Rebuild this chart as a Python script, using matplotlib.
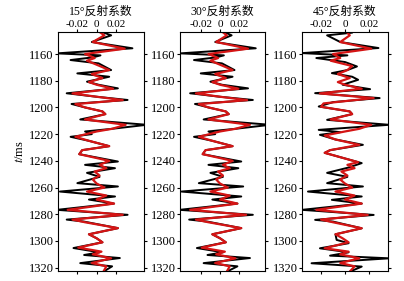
import numpy as np
import matplotlib
matplotlib.use('Agg')
import matplotlib.pyplot as plt

plt.rcParams['font.family'] = ['Liberation Serif', 'Noto Sans CJK SC']
plt.rcParams['mathtext.fontset'] = 'stix'

titles = ['15°反射系数', '30°反射系数', '45°反射系数']

## 15 deg: red = fitted trace, black = original trace
t_red1 = [1142, 1146, 1151, 1156, 1160, 1163, 1165, 1168, 1172, 1175, 1178, 1181, 1183, 1186, 1189.5,
          1192, 1194.5, 1197.5, 1200, 1203, 1205, 1209, 1213, 1216, 1218, 1222, 1225, 1229, 1232, 1235,
          1240, 1243, 1245.5, 1248, 1251, 1254, 1257, 1260, 1263, 1266, 1269, 1272, 1276.7, 1280.4, 1284,
          1286, 1290.4, 1295, 1298, 1301, 1305, 1308, 1310, 1313, 1316.5, 1319, 1323]
x_red1 = [0.0, 0.008, -0.004, 0.029, -0.012, -0.002, -0.01, 0.0, 0.013, -0.005, 0.006, -0.008, 0.0, 0.017, -0.025,
          0.0, 0.027, -0.022, -0.012, 0.006, 0.009, -0.012, 0.03, 0.016, 0.0, -0.022, -0.008, 0.013, -0.015, -0.018,
          0.013, 0.003, 0.01, -0.002, 0.003, -0.004, 0.0, 0.008, -0.01, 0.01, 0.0, 0.018, -0.03, 0.027, -0.025,
          -0.012, 0.022, -0.008, 0.0, 0.006, -0.019, 0.005, -0.004, 0.015, -0.005, 0.01, 0.007]
t_blk1 = [1142, 1146, 1151, 1155.7, 1159.5, 1161, 1162.5, 1164.5, 1167, 1172, 1174.5, 1177, 1180.7, 1183, 1185.7,
          1189.4, 1192, 1194.4, 1197.4, 1200, 1203, 1205, 1209, 1213, 1216, 1218, 1220, 1222, 1225, 1229,
          1232, 1235, 1240.5, 1243, 1245.5, 1249, 1252, 1256.7, 1259.2, 1263, 1266.7, 1269, 1272, 1276.7, 1280.4,
          1284, 1285.5, 1290.4, 1295, 1298, 1301, 1305.3, 1308.5, 1310.5, 1312.8, 1316.6, 1319, 1323]
x_blk1 = [0.0, 0.015, -0.005, 0.037, -0.041, 0.004, -0.004, -0.027, 0.002, 0.015, -0.02, 0.013, -0.01, 0.002, 0.022,
          -0.031, 0.0, 0.032, -0.026, -0.012, 0.006, 0.009, -0.017, 0.052, 0.016, -0.012, -0.005, -0.027, -0.008, 0.013,
          -0.015, -0.018, 0.022, -0.012, 0.019, -0.01, 0.003, -0.02, 0.022, -0.038, 0.019, -0.008, 0.018, -0.041, 0.032,
          -0.031, -0.013, 0.022, -0.008, 0.0, 0.006, -0.024, 0.003, -0.013, 0.024, -0.017, 0.016, 0.007]

## 30 deg
t_red2 = t_red1
x_red2 = [0.0, 0.007, -0.004, 0.029, -0.012, -0.002, -0.01, 0.0, 0.013, -0.005, 0.006, -0.008, 0.0, 0.019, -0.025,
          0.0, 0.028, -0.022, -0.012, 0.006, 0.009, -0.012, 0.031, 0.016, 0.0, -0.022, -0.008, 0.013, -0.015, -0.018,
          0.013, 0.003, 0.01, -0.002, 0.003, -0.004, 0.0, 0.008, -0.01, 0.01, 0.0, 0.018, -0.031, 0.027, -0.025,
          -0.012, 0.022, -0.008, 0.0, 0.006, -0.019, 0.005, -0.004, 0.016, -0.005, 0.01, 0.007]
t_blk2 = t_blk1
x_blk2 = [0.0, 0.012, -0.005, 0.037, -0.041, 0.004, -0.004, -0.027, 0.002, 0.015, -0.02, 0.013, -0.01, 0.002, 0.029,
          -0.031, 0.0, 0.034, -0.026, -0.012, 0.006, 0.009, -0.017, 0.052, 0.016, -0.012, -0.005, -0.027, -0.008, 0.013,
          -0.015, -0.018, 0.022, -0.012, 0.019, -0.01, 0.003, -0.022, 0.024, -0.04, 0.022, -0.008, 0.018, -0.042, 0.034,
          -0.032, -0.013, 0.022, -0.008, 0.0, 0.006, -0.024, 0.003, -0.013, 0.031, -0.017, 0.018, 0.007]

## 45 deg
t_red3 = [1142, 1146, 1151, 1156, 1160, 1163, 1165, 1169, 1172, 1175, 1178, 1181, 1183, 1186, 1189.5,
          1193, 1197, 1199.5, 1203, 1205, 1209, 1213, 1216, 1218, 1221, 1224, 1228, 1232, 1234, 1241,
          1243, 1245.5, 1248, 1251, 1254, 1257, 1260, 1263, 1266, 1269, 1272, 1276.7, 1280.5, 1284, 1286,
          1290.5, 1295, 1298, 1301, 1305.5, 1308, 1310, 1313, 1316.5, 1319, 1323]
x_red3 = [0.0, 0.004, -0.004, 0.022, -0.01, -0.004, -0.012, 0.006, 0.002, -0.006, 0.004, -0.006, 0.0, 0.014, -0.021,
          0.024, -0.018, -0.02, 0.004, 0.006, -0.012, 0.022, 0.012, 0.0, -0.017, -0.008, 0.012, -0.0125, -0.017, 0.011,
          0.002, 0.008, -0.003, 0.002, -0.004, 0.0, 0.006, -0.008, 0.008, 0.0, 0.014, -0.024, 0.019, -0.02, -0.01,
          0.014, -0.008, -0.002, 0.003, -0.017, 0.003, -0.004, 0.012, -0.004, 0.008, 0.004]
t_blk3 = [1142, 1144, 1146, 1151, 1155.5, 1159.3, 1161, 1163, 1166, 1169.3, 1172, 1174.3, 1177, 1179.3, 1183,
          1186.3, 1189.3, 1193, 1196, 1199.3, 1203, 1205, 1209.3, 1213, 1216.8, 1218.5, 1220.5, 1224, 1228, 1232,
          1234, 1241.7, 1245, 1249, 1252, 1256.7, 1259.2, 1263, 1266.7, 1269.2, 1272, 1276.7, 1280.5, 1284.2, 1285.5,
          1290.5, 1295, 1299.2, 1301.7, 1305.5, 1308.5, 1311, 1313, 1316.7, 1319.2, 1323]
x_blk3 = [0.004, 0.006, -0.015, -0.004, 0.028, -0.036, 0.002, -0.024, 0.0, 0.01, 0.002, -0.011, 0.006, 0.011, -0.002,
          0.021, -0.025, 0.029, -0.01, -0.022, 0.004, 0.006, -0.015, 0.037, -0.022, -0.004, -0.021, -0.008, 0.015, -0.0125,
          -0.017, 0.014, 0.003, -0.015, 0.002, -0.015, 0.015, -0.031, 0.014, -0.011, 0.014, -0.036, 0.024, -0.025, -0.01,
          0.014, -0.008, -0.007, 0.003, -0.021, 0.003, -0.0125, 0.037, -0.028, 0.014, 0.004]

xlims = [(-0.040, 0.049), (-0.0415, 0.0466), (-0.036, 0.036)]
lefts = [58 / 404, 180 / 404, 302 / 404]
widths = [86 / 404, 85 / 404, 86 / 404]

series = [(t_red1, x_red1, t_blk1, x_blk1),
          (t_red2, x_red2, t_blk2, x_blk2),
          (t_red3, x_red3, t_blk3, x_blk3)]

fig = plt.figure(figsize=(4.04, 2.81), dpi=100)

for i in range(3):
    ax = fig.add_axes([lefts[i], 10 / 281, widths[i], 239 / 281])
    tr, xr, tb, xb = series[i]
    ax.plot(xb, tb, c='black', lw=1.4)
    ax.plot(xr, tr, c='#d41414', lw=1.6)
    ax.set_xlim(*xlims[i])
    ax.set_ylim(1322.5, 1143.5)
    ax.set_xticks([-0.02, 0, 0.02])
    ax.set_xticklabels(['-0.02', '0', '0.02'])
    ax.set_yticks(np.arange(1160, 1321, 20))
    ax.xaxis.tick_top()
    ax.tick_params(axis='both', direction='out', length=2, width=0.8,
                   top=True, bottom=True, left=True, right=True, pad=1)
    ax.tick_params(axis='x', labelsize=8, pad=0)
    ax.tick_params(axis='y', labelsize=9)
    for s in ax.spines.values():
        s.set_linewidth(0.8)
    # title sits above the top tick labels
    fig.text(lefts[i] + widths[i] / 2, 1 - 12 / 281, titles[i], fontsize=8.5,
             ha='center', va='center')
    if i == 0:
        ax.set_ylabel('$t$/ms', fontsize=9, labelpad=2)

fig.savefig('out.png', dpi=100)
